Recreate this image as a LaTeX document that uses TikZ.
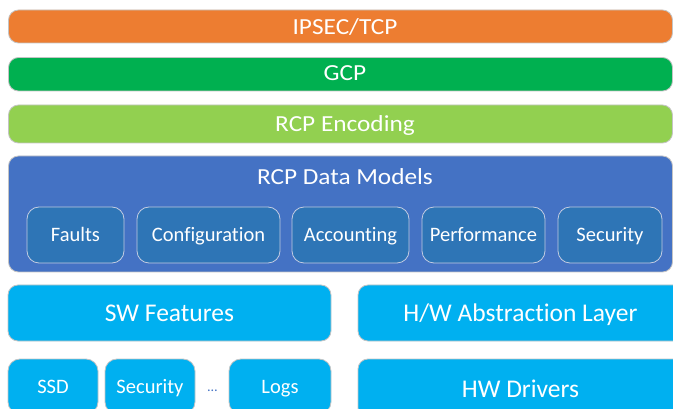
\documentclass[tikz,border=0pt]{standalone}
\usepackage{fontspec}
\setmainfont{Carlito}[Ligatures=NoCommon]
\newfontfamily\widefont{Carlito}[FakeStretch=1.1, Ligatures=NoCommon]
\definecolor{ipsecorange}{HTML}{ED7D31}
\definecolor{gcpgreen}{HTML}{00B050}
\definecolor{enclime}{HTML}{92D050}
\definecolor{modelblue}{HTML}{4472C4}
\definecolor{itemblue}{HTML}{2E75B6}
\definecolor{swcyan}{HTML}{00B0F0}
\definecolor{edgegray}{HTML}{C4C4C4}
\definecolor{itemedge}{HTML}{C3CCE2}
\begin{document}
\begin{tikzpicture}[x=1pt,y=-1pt,
  layerbox/.style={draw=edgegray, line width=0.8pt, rounded corners=10pt,
    rectangle, inner sep=0pt},
  layertext/.style={text=white, inner sep=0pt, anchor=base,
    font=\widefont\fontsize{23}{23}\selectfont},
  itembox/.style={draw=itemedge, line width=0.8pt, rounded corners=12pt,
    fill=itemblue, text=white, inner sep=0pt, minimum height=56pt,
    text height=14pt, text depth=0pt, font=\fontsize{20.5}{20.5}\selectfont},
  swbox/.style={draw=edgegray, line width=0.8pt, rounded corners=10pt,
    fill=swcyan, text=white, inner sep=0pt,
    text height=17pt, text depth=0pt, font=\fontsize{25.5}{25.5}\selectfont},
  smallbox/.style={swbox, rounded corners=12pt, text height=14pt,
    font=\fontsize{20.5}{20.5}\selectfont}]
\useasboundingbox (0,0) rectangle (673,409);
\clip (0,0) rectangle (673,409);

% protocol stack bars
\node[layerbox, fill=ipsecorange, minimum width=664pt, minimum height=33pt]
  (ipsecbar) at (340.5,26.5) {};
\node[layertext] (ipsec) at (345,34.3) {IPSEC/TCP};

\node[layerbox, fill=gcpgreen, minimum width=664pt, minimum height=33.5pt]
  (gcpbar) at (340.5,74.25) {};
\node[layertext] (gcp) at (345,81) {GCP};

\node[layerbox, fill=enclime, minimum width=664pt, minimum height=38pt]
  (encbar) at (340.5,124) {};
\node[layertext] (enc) at (345,131.7) {RCP Encoding};

% data models container
\node[layerbox, fill=modelblue, minimum width=664pt, minimum height=116pt]
  (modelbar) at (340.5,214) {};
\node[layertext] (models) at (345,185) {RCP Data Models};

\node[itembox, minimum width=97pt]  (faults) at (75.5,235)  {Faults};
\node[itembox, minimum width=143pt] (config) at (208.5,235) {Configuration};
\node[itembox, minimum width=117pt] (acct)   at (350.5,235) {Accounting};
\node[itembox, minimum width=123pt] (perf)   at (483.5,235) {Performance};
\node[itembox, minimum width=104pt] (sec)    at (610,235)   {Security};

% software side
\node[swbox, minimum width=323pt, minimum height=56pt] (swfeat) at (169.5,313) {SW Features};
\node[smallbox, minimum width=90pt, minimum height=55pt]  (ssd)   at (53,386.5)  {SSD};
\node[smallbox, minimum width=90pt, minimum height=55pt]  (swsec) at (150,386.5) {Security};
\node[inner sep=0pt, anchor=base, text=modelblue,
  font=\fontsize{14}{14}\selectfont] (more) at (212.5,391.5) {…};
\node[smallbox, minimum width=102pt, minimum height=55pt] (logs)  at (280,386.5) {Logs};

% hardware side
\node[swbox, minimum width=325pt, minimum height=56pt] (hal) at (520.5,313) {H/W Abstraction Layer};
\node[swbox, minimum width=325pt, minimum height=59pt] (hwdrv) at (520.5,388.5) {HW Drivers};
\end{tikzpicture}
\end{document}
